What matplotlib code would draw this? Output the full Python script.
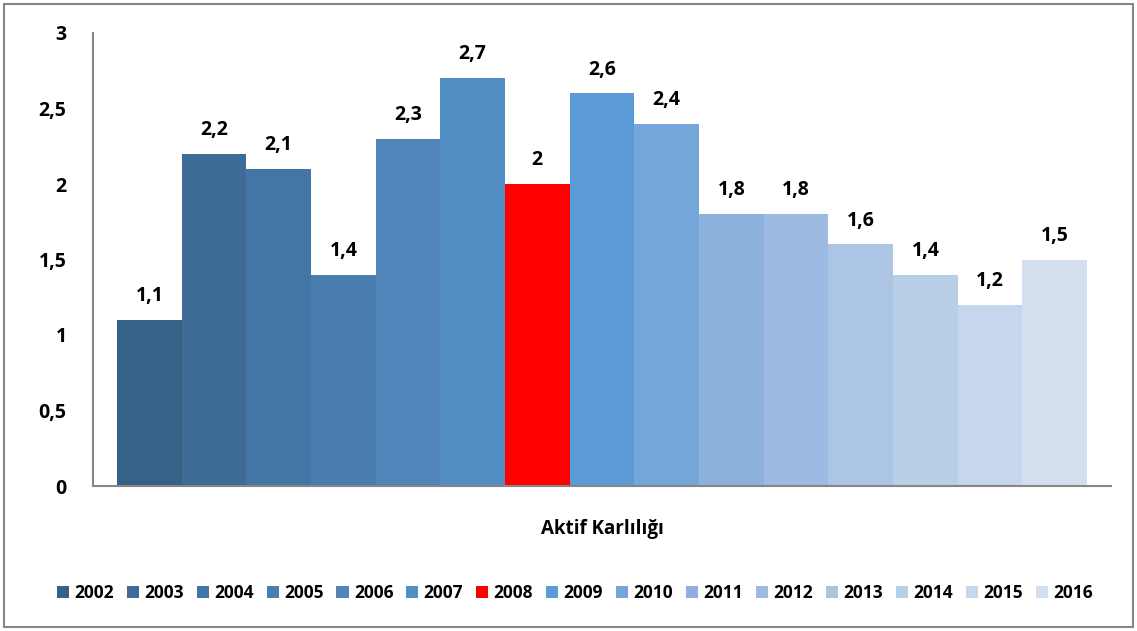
import matplotlib.pyplot as plt
from matplotlib.patches import Rectangle

years = ['2002', '2003', '2004', '2005', '2006', '2007', '2008', '2009',
         '2010', '2011', '2012', '2013', '2014', '2015', '2016']
values = [1.1, 2.2, 2.1, 1.4, 2.3, 2.7, 2.0, 2.6, 2.4, 1.8, 1.8, 1.6, 1.4, 1.2, 1.5]
colors = ['#376288', '#3F6C96', '#4476A5', '#4A7DAF', '#4F85B9', '#528EC4',
          '#FF0000', '#5A9AD5', '#74A6D9', '#8CB1DD', '#9DBBE2', '#ACC5E5',
          '#B9CEE7', '#C6D6EC', '#D3DEEF']
yticks = [0, 0.5, 1, 1.5, 2, 2.5, 3]

plt.rcParams['font.family'] = ['Open Sans', 'DejaVu Sans']
plt.rcParams['font.weight'] = 'bold'

fig = plt.figure(figsize=(11.37, 6.31), dpi=100)
ax = fig.add_axes([93 / 1137, 145 / 631, (1111 - 93) / 1137, (486 - 33) / 631])

x = list(range(len(years)))
bars = ax.bar(x, values, width=1.0, color=colors)

for xi, v in zip(x, values):
    txt = ('%g' % v).replace('.', ',')
    ax.annotate(txt, (xi, v), xytext=(0, 10), textcoords='offset points',
                ha='center', va='bottom', fontsize=14, fontweight='bold')

ax.set_ylim(0, 3)
ax.set_xlim(-0.5 - 24 / 64.7, 14.5 + 24 / 64.7)
ax.set_yticks(yticks)
ax.set_yticklabels([('%g' % t).replace('.', ',') for t in yticks],
                   fontsize=14, fontweight='bold')
ax.set_xticks([])
ax.tick_params(axis='y', length=0, pad=19)
for s in ['top', 'right']:
    ax.spines[s].set_visible(False)
for s in ['left', 'bottom']:
    ax.spines[s].set_color('#868686')
    ax.spines[s].set_linewidth(1.5)

ax.set_xlabel('Aktif Karlılığı', fontsize=13.5, fontweight='bold', labelpad=24)

fig.legend(handles=list(bars), labels=years, loc='center', ncol=15,
           bbox_to_anchor=(575 / 1137, 1 - 593 / 631), frameon=False,
           prop={'size': 12.5, 'weight': 'bold'}, handlelength=0.7,
           handleheight=0.7, handletextpad=0.3, columnspacing=0.75)

fig.patches.append(Rectangle((4 / 1137, 4 / 631), 1129 / 1137, 623 / 631,
                             transform=fig.transFigure, fill=False,
                             edgecolor='#868686', linewidth=1.5))

fig.savefig('out.png', dpi=100)
